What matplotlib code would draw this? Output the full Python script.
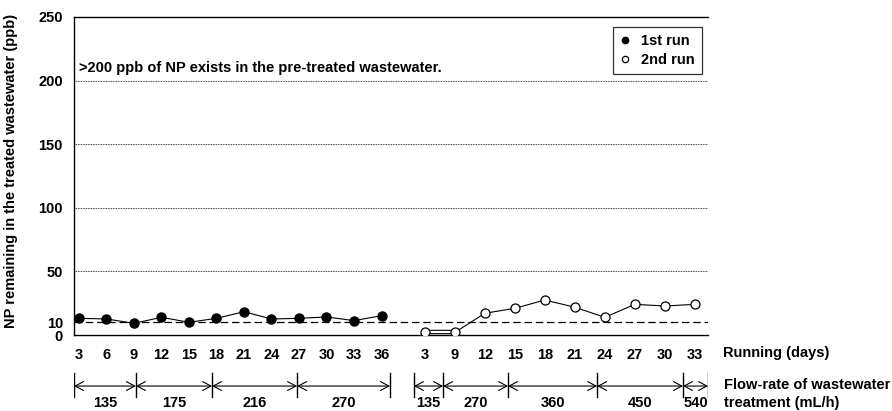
import numpy as np
import matplotlib.pyplot as plt

# data
days1 = [3, 6, 9, 12, 15, 18, 21, 24, 27, 30, 33, 36]
np_run1 = [13.1, 12.6, 9.2, 13.9, 10.0, 13.1, 18.3, 12.6, 13.1, 14.2, 11.3, 15.2]
days2 = [3, 9, 12, 15, 18, 21, 24, 27, 30, 33]
np_run2 = [2.1, 2.1, 17.1, 21.0, 27.5, 21.8, 13.9, 24.1, 22.8, 24.1]
flow1 = [135, 175, 216, 270]
flow2 = [135, 270, 360, 450, 540]
yticks = [0, 10, 50, 100, 150, 200, 250]

# layout (category slots on the x axis)
x1 = np.arange(len(days1))
x2 = 12.58 + 1.09 * np.arange(len(days2))
edges1 = [-0.18, 2.07, 4.84, 7.93, 11.31]
edges2 = [12.18, 13.24, 15.6, 18.84, 21.96, 22.87]
xmin, xmax = -0.18, 22.87

plt.rcParams['font.family'] = ['Liberation Sans', 'DejaVu Sans']
plt.rcParams['font.weight'] = 'bold'
fs = 10.5

W, H = 892, 411
fig = plt.figure(figsize=(W / 100, H / 100), dpi=100)
ax = fig.add_axes([74 / W, (H - 335) / H, (708 - 74) / W, (335 - 17) / H])

# grid and reference lines
for v in [50, 100, 150, 200]:
    ax.axhline(v, color='black', lw=0.6, ls=(0, (1, 1)), zorder=1)
ax.axhline(10, color='black', lw=0.9, ls=(0, (6, 3)), zorder=1)

# 1st run
ax.plot(x1, np_run1, color='black', lw=0.8, marker='o', ms=6.5,
        mfc='black', mec='black', label='1st run', zorder=3)
# 2nd run (first segment drawn as a hollow bar like the original)
ax.plot(x2[:2], np_run2[:2], color='black', lw=3.2, zorder=2, solid_capstyle='butt')
ax.plot(x2[:2], np_run2[:2], color='white', lw=1.6, zorder=2, solid_capstyle='butt')
ax.plot(x2[1:], np_run2[1:], color='black', lw=0.8, zorder=2)
ax.plot(x2, np_run2, color='black', lw=0, marker='o', ms=6.5,
        mfc='white', mec='black', mew=0.9, label='2nd run', zorder=3)

ax.set_xlim(xmin, xmax)
ax.set_ylim(0, 250)
ax.set_yticks(yticks)
ax.set_yticklabels([str(v) for v in yticks], fontsize=fs, fontweight='bold')
ax.set_xticks(list(x1) + list(x2))
ax.set_xticklabels([str(d) for d in days1 + days2], fontsize=fs, fontweight='bold')
ax.tick_params(axis='y', length=0, pad=8)
ax.tick_params(axis='x', length=0, pad=9)
ax.spines['right'].set_visible(False)
for s in ['left', 'top', 'bottom']:
    ax.spines[s].set_linewidth(1.0)

ax.set_ylabel('NP remaining in the treated wastewater (ppb)', fontsize=fs,
              fontweight='bold')
ax.yaxis.set_label_coords(-0.088, 0.515)

ax.text(0.005, 210, '>200 ppb of NP exists in the pre-treated wastewater.',
        fontsize=fs, fontweight='bold', va='center', ha='left')

leg = ax.legend(loc='upper right', bbox_to_anchor=(0.99, 0.968), fontsize=fs,
                frameon=True, fancybox=False, edgecolor='black', markerscale=0.7,
                handlelength=0.6, handletextpad=0.8, borderpad=0.5,
                labelspacing=0.3, borderaxespad=0)
leg.get_frame().set_linewidth(0.9)
for t in leg.get_texts():
    t.set_fontweight('bold')
# only markers in legend
for h in leg.legend_handles:
    h.set_linestyle('')

# flow-rate row
ax2 = fig.add_axes([74 / W, 0, (708 - 74) / W, 39 / H], sharex=ax)
ax2.set_ylim(0, 1)
ax2.axis('off')
y_arrow = 0.64
for edges, flows in [(edges1, flow1), (edges2, flow2)]:
    for i, f in enumerate(flows):
        a, b = edges[i], edges[i + 1]
        ax2.annotate('', xy=(b, y_arrow), xytext=(a, y_arrow),
                     arrowprops=dict(arrowstyle='<->,head_length=0.6,head_width=0.32',
                                     lw=0.8, color='black', shrinkA=0, shrinkB=0))
        ax2.text((a + b) / 2, 0.02, str(f), fontsize=fs, fontweight='bold',
                 ha='center', va='bottom')
    for e in edges:
        ax2.plot([e, e], [0.36, 0.97], color='black', lw=1.0)
ax2.set_xlim(xmin, xmax)

fig.text(723 / W, 1 - 353 / H, 'Running (days)', fontsize=fs, fontweight='bold',
         ha='left', va='center')
fig.text(724 / W, 1 - 385 / H, 'Flow-rate of wastewater', fontsize=fs,
         fontweight='bold', ha='left', va='center')
fig.text(724 / W, 1 - 403 / H, 'treatment (mL/h)', fontsize=fs,
         fontweight='bold', ha='left', va='center')

fig.savefig('out.png', dpi=100)
